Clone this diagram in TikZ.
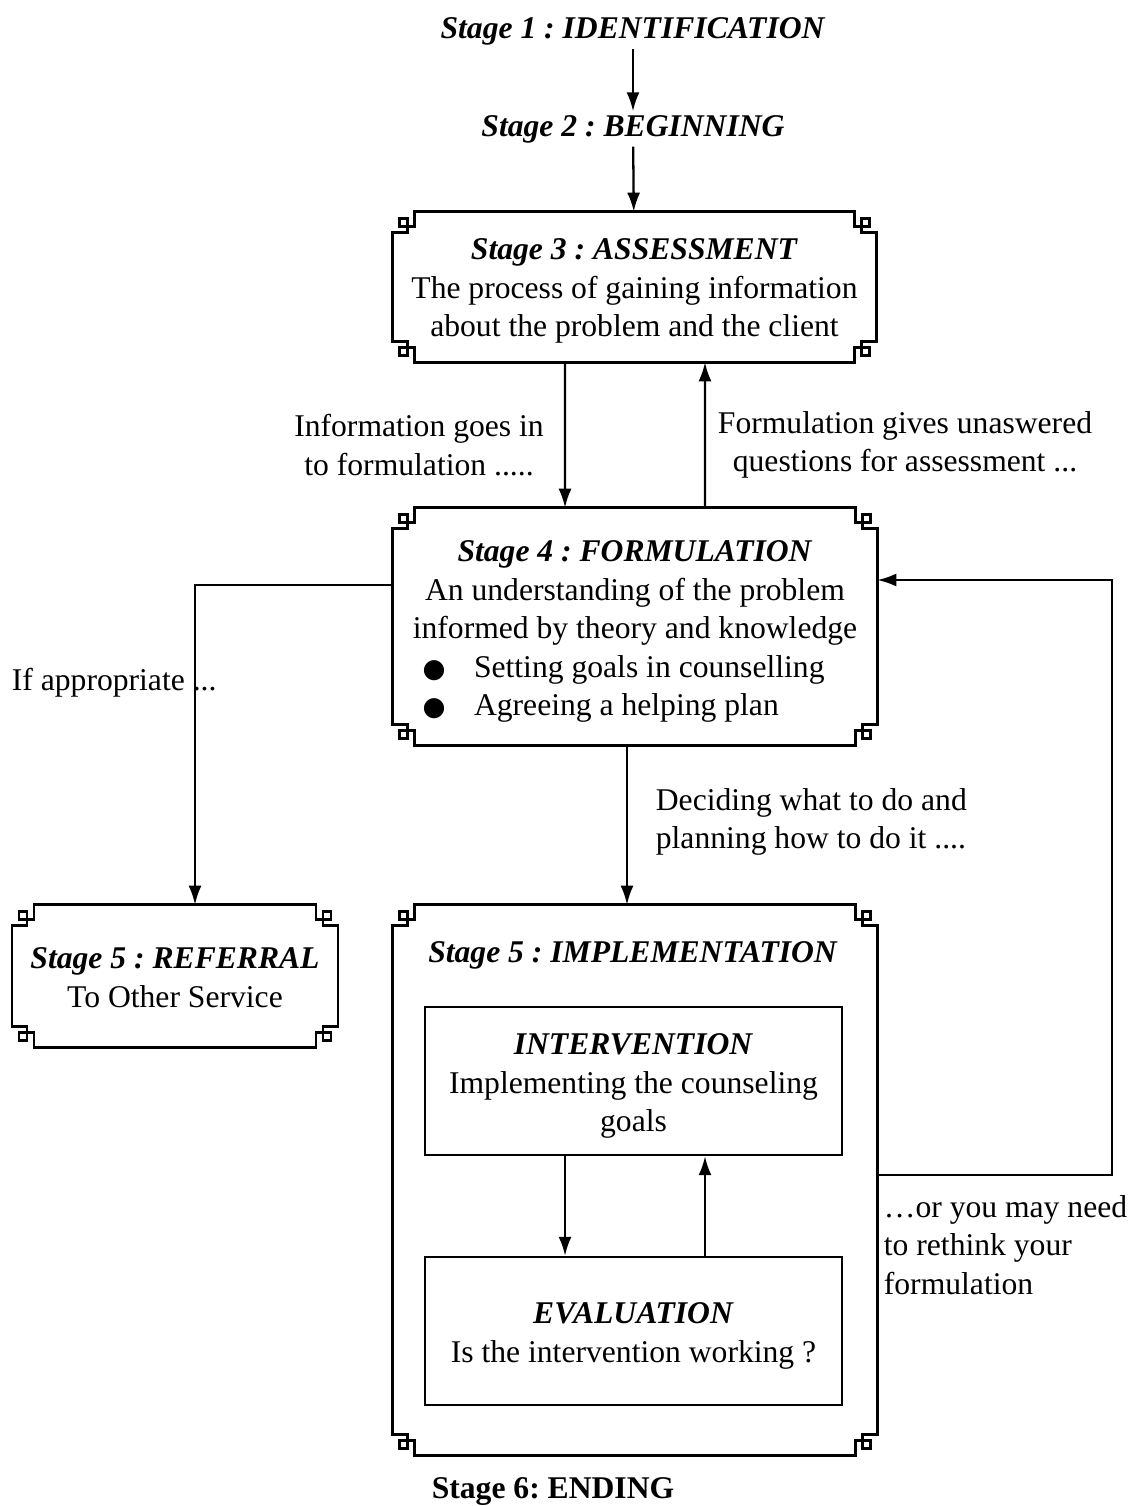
\documentclass[tikz,border=0pt]{standalone}
\usepackage{fontspec}
\setmainfont{Liberation Serif}
\newfontfamily\symfont{DejaVu Sans}
\usepackage{tikz}
\usetikzlibrary{positioning,calc,arrows.meta}
\frenchspacing

% stepped frame with little squares in the corners
\newcommand{\fancyframe}[1]{%
  \draw[frame] ($(#1.north west)+(0,21)$) -- ++(15,0) -- ++(0,-6) -- ++(7,0) -- ++(0,-15)
    -- ($(#1.north east)+(-22,0)$) -- ++(0,15) -- ++(7,0) -- ++(0,6) -- ++(15,0)
    -- ($(#1.south east)+(0,-21)$) -- ++(-15,0) -- ++(0,6) -- ++(-7,0) -- ++(0,15)
    -- ($(#1.south west)+(22,0)$) -- ++(0,-15) -- ++(-7,0) -- ++(0,-6) -- ++(-15,0) -- cycle;
  \draw[frame] ($(#1.north west)+(7,7)$) rectangle ++(8,8);
  \draw[frame] ($(#1.north east)+(-15,7)$) rectangle ++(8,8);
  \draw[frame] ($(#1.south east)+(-15,-15)$) rectangle ++(8,8);
  \draw[frame] ($(#1.south west)+(7,-15)$) rectangle ++(8,8);
}
\newcommand{\stagett}[1]{\textbf{\textit{#1}}}
\newcommand{\blt}{{\symfont\fontsize{15}{15}\selectfont ●}}

\begin{document}
\begin{tikzpicture}[
        x=0.02cm, y=-0.02cm,
        every node/.style={font=\fontsize{18}{21.9}\selectfont},
        box/.style={rectangle, inner sep=0pt},
        inbox/.style={rectangle, draw, line width=1.4pt, inner sep=0pt},
        frame/.style={line width=1.5pt},
        txt/.style={align=center, inner sep=2pt},
        arrow/.style={-{Latex[length=3.8mm,width=2.6mm]}, line width=1.3pt}
    ]
    \useasboundingbox (0,0) rectangle (1133,1506);

    % Top stages
    \node[txt] (ident) at (633,31) {\stagett{Stage 1 : IDENTIFICATION}};
    \node[txt] (begin) at (633,129) {\stagett{Stage 2 : BEGINNING}};

    % Framed boxes
    \node[box, minimum width=9.66cm, minimum height=3cm] (assess) at (634.5,287) {};
    \node[box, minimum width=9.68cm, minimum height=4.74cm] (form) at (635,626.5) {};
    \node[box, minimum width=6.5cm, minimum height=2.84cm] (refer) at (175,976) {};
    \node[box, minimum width=9.68cm, minimum height=11cm] (impl) at (635,1180) {};

    % Inner boxes
    \node[inbox, minimum width=8.34cm, minimum height=2.96cm] (interv) at (633.5,1081) {};
    \node[inbox, minimum width=8.34cm, minimum height=2.96cm] (eval) at (633.5,1331) {};

    \fancyframe{assess}
    \fancyframe{form}
    \fancyframe{refer}
    \fancyframe{impl}

    % Box texts
    \node[txt] (assesstxt) at ([yshift=-0.08cm]assess)
        {\stagett{Stage 3 : ASSESSMENT}\\The process of gaining information\\about the problem and the client};
    \node[txt] (formtxt) at ([yshift=-0.1cm]form)
        {\stagett{Stage 4 : FORMULATION}\\An understanding of the problem\\informed by theory and knowledge\\
         \makebox[8.5cm][l]{\blt\hspace{0.57cm}Setting goals in counselling}\\
         \makebox[8.5cm][l]{\blt\hspace{0.57cm}Agreeing a helping plan}};
    \node[txt] (refertxt) at ([yshift=-0.03cm]refer)
        {\stagett{Stage 5 : REFERRAL}\\To Other Service};
    \node[txt] (impltitle) at (633,955) {\stagett{Stage 5 : IMPLEMENTATION}};
    \node[txt] (intervtxt) at ([yshift=-0.1cm]interv)
        {\stagett{INTERVENTION}\\Implementing the counseling\\goals};
    \node[txt] (evaltxt) at ([yshift=-0.1cm]eval)
        {\stagett{EVALUATION}\\Is the intervention working ?};

    % Labels
    \node[txt] (infoin) at (419,445) {Information goes in\\to formulation .....};
    \node[txt] (unansw) at (905,445) {Formulation gives unaswered\\questions for assessment ...};
    \node[txt, anchor=west] (ifapp) at (8,683) {If appropriate ...};
    \node[txt, align=left, anchor=west] (decide) at (652,822) {Deciding what to do and\\planning how to do it ....};
    \node[txt, align=left, anchor=west] (rethink) at (880,1245) {…or you may need\\to rethink your\\formulation};
    \node[txt] (ending) at (553,1492) {\textbf{Stage 6: ENDING}};

    % Connections
    \draw[arrow] (ident) -- (begin);
    \draw[arrow] (begin) -- (assess);
    \draw[arrow] ([xshift=-1.39cm]assess.south) -- ([xshift=-1.4cm]form.north);
    \draw[arrow] ([xshift=1.4cm]form.north) -- ([xshift=1.41cm]assess.south);
    \draw[arrow] ([yshift=0.83cm]form.west) -| ([xshift=0.4cm]refer.north);
    \draw[arrow] ([xshift=-0.16cm]form.south) -- ([xshift=-0.16cm]impl.north);
    \draw[arrow] ([xshift=-1.37cm]interv.south) -- ([xshift=-1.37cm]eval.north);
    \draw[arrow] ([xshift=1.43cm]eval.north) -- ([xshift=1.43cm]interv.south);
    \draw[arrow] ([yshift=0.1cm]impl.east) -- ++(4.7cm,0) |- ([yshift=0.93cm]form.east);

\end{tikzpicture}
\end{document}
